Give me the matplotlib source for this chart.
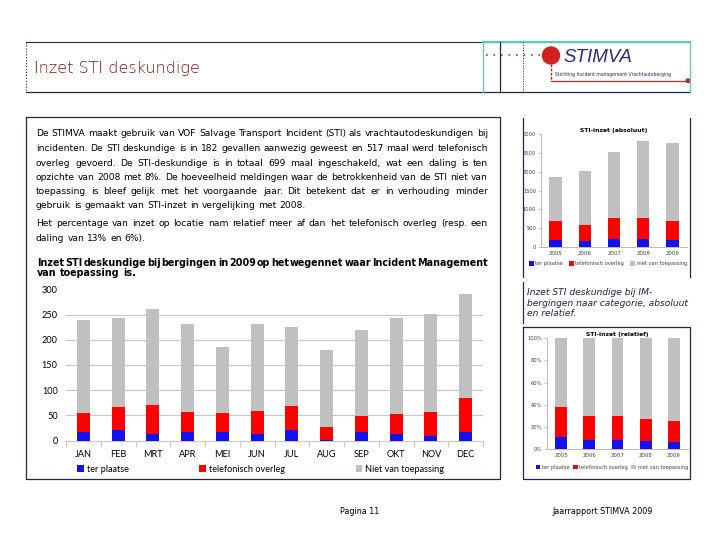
import matplotlib
matplotlib.use('Agg')
import matplotlib.pyplot as plt
import numpy as np
from matplotlib.patches import Circle

# maandelijkse inzet STI in 2009
maanden = ['JAN', 'FEB', 'MRT', 'APR', 'MEI', 'JUN', 'JUL', 'AUG', 'SEP', 'OKT', 'NOV', 'DEC']
ter_plaatse = [17, 21, 14, 17, 17, 14, 21, 2, 18, 14, 10, 17]
telefonisch = [37, 45, 57, 39, 37, 45, 48, 25, 31, 39, 47, 67]
niet_van_toepassing = [185, 177, 190, 175, 132, 172, 156, 153, 170, 190, 194, 207]

# jaartotalen
jaren = ['2005', '2006', '2007', '2008', '2009']
ter_plaatse_jaar = [195, 168, 200, 209, 182]
telefonisch_jaar = [504, 425, 560, 550, 517]
niet_jaar = [1159, 1425, 1760, 2073, 2071]

BLAUW = '#1212f0'
ROOD = '#ff0000'
GRIJS = '#c0c0c0'
NAVY = '#1c2a4a'
TEAL = '#5cc7bd'

W, H = 720, 540
fig = plt.figure(figsize=(7.2, 5.4), dpi=100)

def px_rect(x0, y0, x1, y1):
    return [x0 / W, 1 - y1 / H, (x1 - x0) / W, (y1 - y0) / H]

page = fig.add_axes([0, 0, 1, 1])
page.set_xlim(0, W)
page.set_ylim(H, 0)
page.axis('off')

# kopbalk
page.plot([26, 690], [42.3, 42.3], color=NAVY, lw=0.8)
page.plot([483, 690], [42.3, 42.3], color=TEAL, lw=1.6)
page.plot([26, 690], [91.5, 91.5], color=NAVY, lw=0.9)
page.plot([26, 26], [42.3, 91.5], color=NAVY, lw=0.8, ls=':')
page.plot([483.3, 483.3], [42.3, 91.5], color=TEAL, lw=0.9)
page.plot([500.3, 500.3], [42.3, 91.5], color=NAVY, lw=0.9)
page.plot([522.7, 522.7], [42.3, 91.5], color=NAVY, lw=0.7, ls=':')
page.plot([690, 690], [42.3, 91.5], color=TEAL, lw=0.9)
page.text(34, 69, 'Inzet STI deskundige', color='#7e1616', fontsize=11.5,
          fontfamily='DejaVu Sans', fontweight='light', va='center', ha='left')

# logo
page.plot([486, 541], [55, 55], color='#c42a2a', lw=1.2, ls=(0, (1, 3.5)))
page.add_patch(Circle((551, 55.5), 8.5, color='#d02020'))
page.plot([550.5, 550.5], [64, 80.7], color='#c42a2a', lw=1.0, ls=(0, (2, 1)))
page.plot([550.5, 688], [80.7, 80.7], color='#c42a2a', lw=0.9)
page.add_patch(Circle((688, 80.7), 1.8, color='#c42a2a'))
page.text(563, 57, 'STIMVA', color='#2a2a80', fontsize=13.5, fontstyle='italic',
          fontfamily='Liberation Sans', va='center', ha='left')
page.text(555, 77, 'Stichting Incident management Vrachtautoberging', color='#2a2a80',
          fontsize=3.3, va='bottom', ha='left')

# kaders
page.plot([26, 500.3, 500.3, 26, 26], [116.7, 116.7, 479.3, 479.3, 116.7], color=NAVY, lw=0.9)
page.plot([522.7, 522.7], [118, 277], color=NAVY, lw=0.9)
page.plot([690, 690], [118, 277], color=NAVY, lw=0.9)
page.plot([522.7, 522.7], [282, 323], color=NAVY, lw=0.9)
page.plot([522.7, 690, 690, 522.7, 522.7], [327, 327, 479.3, 479.3, 327], color=NAVY, lw=0.9)

# lopende tekst, uitgevuld
renderer = fig.canvas.get_renderer()

def tekstregel(s, x0, x1, y, uitvullen, **kw):
    woorden = s.split()
    objs = [page.text(x0, y, w, va='center', ha='left', **kw) for w in woorden]
    breedtes = [o.get_window_extent(renderer).width for o in objs]
    spatie = page.text(0, 0, 'a a', **kw)
    sp = spatie.get_window_extent(renderer).width
    a = page.text(0, 0, 'aa', **kw)
    sp -= a.get_window_extent(renderer).width
    spatie.remove()
    a.remove()
    if uitvullen and len(woorden) > 1:
        sp = (x1 - x0 - sum(breedtes)) / (len(woorden) - 1)
    x = x0
    for o, b in zip(objs, breedtes):
        o.set_x(x)
        x += b + sp

regels = [
    ('De STIMVA maakt gebruik van VOF Salvage Transport Incident (STI) als vrachtautodeskundigen bij', True),
    ('incidenten. De STI deskundige is in 182 gevallen aanwezig geweest en 517 maal werd telefonisch', True),
    ('overleg gevoerd. De STI-deskundige is in totaal 699 maal ingeschakeld, wat een daling is ten', True),
    ('opzichte van 2008 met 8%. De hoeveelheid meldingen waar de betrokkenheid van de STI niet van', True),
    ('toepassing is bleef gelijk met het voorgaande jaar. Dit betekent dat er in verhouding minder', True),
    ('gebruik is gemaakt van STI-inzet in vergelijking met 2008.', False),
    ('Het percentage van inzet op locatie nam relatief meer af dan het telefonisch overleg (resp. een', True),
    ('daling van 13% en 6%).', False),
]
regel_y = [133.7, 148.5, 163.0, 177.3, 191.7, 206.0, 224.0, 238.3]
for (s, uit), y in zip(regels, regel_y):
    tekstregel(s, 36, 488, y, uit, fontsize=6.6, color='black')

tekstregel('Inzet STI deskundige bij bergingen in 2009 op het wegennet waar Incident Management',
           37, 488, 263.3, True, fontsize=6.9, fontweight='bold', color='black')
tekstregel('van toepassing is.', 37, 488, 273.3, False, fontsize=6.9, fontweight='bold', color='black')

page.text(527, 303, 'Inzet STI deskundige bij IM-\nbergingen naar categorie, absoluut\nen relatief.',
          fontsize=6.6, fontstyle='italic', color='#222244', va='center', ha='left',
          linespacing=1.15)

page.text(340, 511, 'Pagina 11', fontsize=5.8, va='center', ha='left')
page.text(552, 511, 'Jaarrapport STIMVA 2009', fontsize=5.8, va='center', ha='left')

# grote grafiek per maand
ax = fig.add_axes(px_rect(66, 289.3, 483, 440.7))
x = np.arange(len(maanden))
b1 = ax.bar(x, ter_plaatse, 0.37, color=BLAUW, label='ter plaatse', zorder=3)
b2 = ax.bar(x, telefonisch, 0.37, bottom=ter_plaatse, color=ROOD, label='telefonisch overleg', zorder=3)
onder = np.array(ter_plaatse) + np.array(telefonisch)
b3 = ax.bar(x, niet_van_toepassing, 0.37, bottom=onder, color=GRIJS, label='Niet van toepassing', zorder=3)
ax.set_xlim(-0.5, 11.5)
ax.set_ylim(0, 300)
ax.set_yticks(range(0, 301, 50))
for yv in range(50, 300, 50):
    ax.axhline(yv, color='#c8c8c8', lw=0.8, zorder=1)
ax.set_xticks(x)
ax.set_xticklabels(maanden)
ax.set_xticks(np.arange(-0.5, 12, 1), minor=True)
ax.tick_params(axis='x', which='major', length=0, pad=7, labelsize=6.6)
ax.tick_params(axis='x', which='minor', length=4, color='#c8c8c8', width=0.8)
ax.tick_params(axis='y', length=0, pad=6, labelsize=6.6)
for s in ['top', 'right', 'left']:
    ax.spines[s].set_visible(False)
ax.spines['bottom'].set_color('#c8c8c8')
ax.spines['bottom'].set_linewidth(0.8)
for lab in ax.get_xticklabels() + ax.get_yticklabels():
    lab.set_fontfamily('Lato')
ax.legend(handles=[b1, b2, b3], loc='lower left', bbox_to_anchor=(0.027, -0.22, 0.88, 0.04),
          mode='expand', ncol=3, frameon=False, handlelength=0.75, handleheight=0.75,
          handletextpad=0.3, borderaxespad=0, borderpad=0, prop={'family': 'Lato', 'size': 6.6})

# kleine grafieken per jaar
def jaargrafiek(rect, blauw, rood, grijs, titel, ymax, ticks, ticklabels, titel_y, leg_y):
    a = fig.add_axes(rect)
    xj = np.arange(len(jaren))
    h1 = a.bar(xj, blauw, 0.42, color=BLAUW, label='ter plaatse', zorder=3)
    h2 = a.bar(xj, rood, 0.42, bottom=blauw, color=ROOD, label='telefonisch overleg', zorder=3)
    h3 = a.bar(xj, grijs, 0.42, bottom=np.array(blauw) + np.array(rood), color=GRIJS,
               label='niet van toepassing', zorder=3)
    a.set_xlim(-0.5, len(jaren) - 0.5)
    a.set_ylim(0, ymax)
    a.set_yticks(ticks)
    a.set_yticklabels(ticklabels)
    a.set_xticks(xj)
    a.set_xticklabels(jaren)
    a.tick_params(axis='x', length=0, pad=3, labelsize=3.9, colors='#444444')
    a.tick_params(axis='y', length=2, pad=1.5, labelsize=3.7, colors='#444444', width=0.5)
    a.tick_params(axis='y', color='#b0b0b0')
    for s in ['top', 'right']:
        a.spines[s].set_visible(False)
    for s in ['left', 'bottom']:
        a.spines[s].set_color('#b0b0b0')
        a.spines[s].set_linewidth(0.6)
    a.set_title(titel, fontsize=4.3, fontweight='bold', pad=titel_y)
    a.legend(handles=[h1, h2, h3], loc='lower left', bbox_to_anchor=(-0.08, leg_y, 1.08, 0.04),
             mode='expand', ncol=3, frameon=False, fontsize=3.7, handlelength=0.9, handleheight=0.9,
             handletextpad=0.3, borderaxespad=0, borderpad=0, labelcolor='#444444')
    return a

jaargrafiek(px_rect(541, 134.3, 687, 247), ter_plaatse_jaar, telefonisch_jaar, niet_jaar,
            'STI-inzet (absoluut)', 3000, range(0, 3001, 500),
            [str(v) for v in range(0, 3001, 500)], 1.5, -0.17)

totaal = np.array(ter_plaatse_jaar) + np.array(telefonisch_jaar) + np.array(niet_jaar)
jaargrafiek(px_rect(547, 338.3, 688, 449), np.array(ter_plaatse_jaar) / totaal,
            np.array(telefonisch_jaar) / totaal, np.array(niet_jaar) / totaal,
            'STI-inzet (relatief)', 1.0, np.arange(0, 1.01, 0.2),
            ['%d%%' % v for v in range(0, 101, 20)], 2.0, -0.19)

fig.savefig('out.png', dpi=100)
